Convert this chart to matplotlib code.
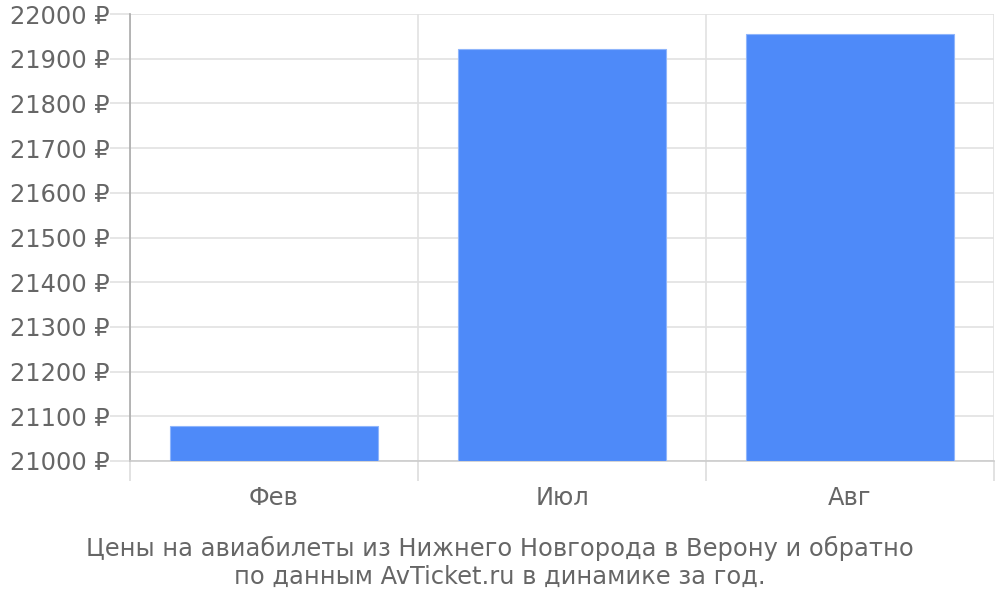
import matplotlib.pyplot as plt
import numpy as np

months = ['Фев', 'Июл', 'Авг']
prices = [21078, 21922, 21956]
y_ticks = list(range(21000, 22001, 100))

BAR_COLOR = '#4e8af9'
TEXT_COLOR = '#666666'
GRID_COLOR = '#e2e2e2'
FS = 17.4

fig = plt.figure(figsize=(10, 6), dpi=100)
ax = fig.add_axes([0.13, 1 - 461 / 600, 0.864, (461 - 14) / 600])

x = np.arange(len(months))
ax.bar(x, [p - 21000 for p in prices], bottom=21000, width=0.72,
       color=BAR_COLOR, edgecolor='#8fb5fb', linewidth=0.8, zorder=3)

ax.set_xlim(-0.5, len(months) - 0.5)
ax.set_ylim(21000, 22000)
ax.set_yticks(y_ticks)
ax.set_yticklabels([f'{v} ₽' for v in y_ticks])
ax.set_xticks(x)
ax.set_xticklabels(months)
ax.set_xticks(np.arange(len(months) + 1) - 0.5, minor=True)

ax.tick_params(axis='y', length=14.4, width=1.2, color=GRID_COLOR, pad=0,
               labelsize=FS, labelcolor=TEXT_COLOR)
ax.tick_params(axis='x', which='major', length=0, pad=18,
               labelsize=FS, labelcolor=TEXT_COLOR)
ax.tick_params(axis='x', which='minor', length=14.4, width=1.2, color='#dddddd')

ax.grid(axis='y', which='major', color=GRID_COLOR, linewidth=1.2, zorder=0)
ax.grid(axis='x', which='minor', color=GRID_COLOR, linewidth=1.2, zorder=0)

for side in ['top', 'right']:
    ax.spines[side].set_visible(False)
ax.spines['left'].set_color('#aaaaaa')
ax.spines['left'].set_linewidth(1.2)
ax.spines['bottom'].set_color('#cccccc')
ax.spines['bottom'].set_linewidth(1.2)
ax.xaxis.get_minor_ticks()[0].tick1line.set_color('#aaaaaa')

fig.text(0.5, 1 - 562 / 600,
         'Цены на авиабилеты из Нижнего Новгорода в Верону и обратно\n'
         'по данным AvTicket.ru в динамике за год.',
         ha='center', va='center', fontsize=FS, color=TEXT_COLOR,
         linespacing=1.2)

fig.savefig('out.png', dpi=100)
